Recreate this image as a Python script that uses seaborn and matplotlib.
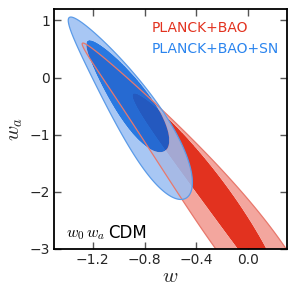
import numpy as np
import matplotlib
matplotlib.use("Agg")
import matplotlib.pyplot as plt
import seaborn as sns

# ---- data: 68%/95% posterior contours in the (w, w_a) plane ----
labels = ["PLANCK+BAO", "PLANCK+BAO+SN"]
# per dataset: [95% contour, 68% contour]
wa_center = [[-1.914, -2.089], [-0.537, -0.326]]
wa_halfspan = [[2.518, 1.816], [1.596, 0.982]]
w_center = [[-0.329, -0.242], [-0.880, -0.922]]
w_slope = [[-0.854, -0.575], [-0.425, -0.272]]
w_curv = [[-0.093, -0.062], [-0.065, -0.031]]
w_halfwidth = [[0.245, 0.136], [0.205, 0.165]]
w_skew = [[-0.531, 0.10], [-0.28, -0.20]]

xticks = [-1.2, -0.8, -0.4, 0.0]
yticks = [-3, -2, -1, 0, 1]
xlim = (-1.5, 0.3)
ylim = (-3.0, 1.2)

# ---- style ----
sns.set_style("ticks")
plt.rcParams["font.family"] = ["DejaVu Sans"]
plt.rcParams["mathtext.fontset"] = "cm"

fill_colors = [["#f3a69e", "#e2321f"], ["#99bef3", "#0260dc"]]
fill_alpha = [1.0, 0.85]
line_colors = ["#e8786c", "#5b9be8"]
text_colors = ["#e2321f", "#2a84ee"]

fig = plt.figure(figsize=(2.97, 2.93), dpi=100)
ax = fig.add_axes([54 / 297, 1 - 249 / 293, (287 - 54) / 297, (249 - 9) / 293])

W, WA = np.meshgrid(np.linspace(-1.6, 0.4, 1400), np.linspace(-3.6, 1.3, 1400))


def chi2(i, j):
    t = (WA - wa_center[i][j]) / wa_halfspan[i][j]
    mid = w_center[i][j] + w_slope[i][j] * t + w_curv[i][j] * t ** 2
    half = np.clip(w_halfwidth[i][j] * (1 + w_skew[i][j] * t), 1e-3, None)
    return ((W - mid) / half) ** 2 + t ** 2


fields = []
for i in range(len(labels)):
    outer = chi2(i, 0)
    inner = chi2(i, 1)
    g = np.where(inner <= 1, inner, 1 + outer)
    fields.append((g, outer))
    ax.contourf(W, WA, g, levels=[-1, 1, 2], colors=[fill_colors[i][1], fill_colors[i][0]],
                alpha=fill_alpha[i], antialiased=True)

for i in range(len(labels)):
    ax.contour(W, WA, fields[i][1], levels=[1], colors=[line_colors[i]], linewidths=0.9)

ax.set_xlim(*xlim)
ax.set_ylim(*ylim)
ax.set_xticks(xticks)
ax.set_yticks(yticks)
ax.set_xticklabels([f"{v:.1f}".replace("-", "\u2212") for v in xticks])
ax.set_yticklabels([f"{v:d}".replace("-", "\u2212") for v in yticks])
ax.tick_params(direction="in", top=True, right=True, length=5, width=1,
               color="#555555", labelsize=10, pad=3)
for s in ax.spines.values():
    s.set_linewidth(1.3)
    s.set_color("black")

ax.set_xlabel(r"$w$", fontsize=15, labelpad=-1)
ax.set_ylabel(r"$w_a$", fontsize=15, labelpad=3)

for i, lab in enumerate(labels):
    ax.text(0.417, 0.92 - i * 0.085, lab, transform=ax.transAxes, color=text_colors[i],
            fontsize=10, ha="left", va="center")
ax.text(0.05, 0.06, r"$w_0\,w_a$", transform=ax.transAxes, fontsize=11.5,
        ha="left", va="center", color="black")
ax.text(0.232, 0.065, "CDM", transform=ax.transAxes, fontsize=12,
        ha="left", va="center", color="black")

fig.savefig("out.png", dpi=100)
